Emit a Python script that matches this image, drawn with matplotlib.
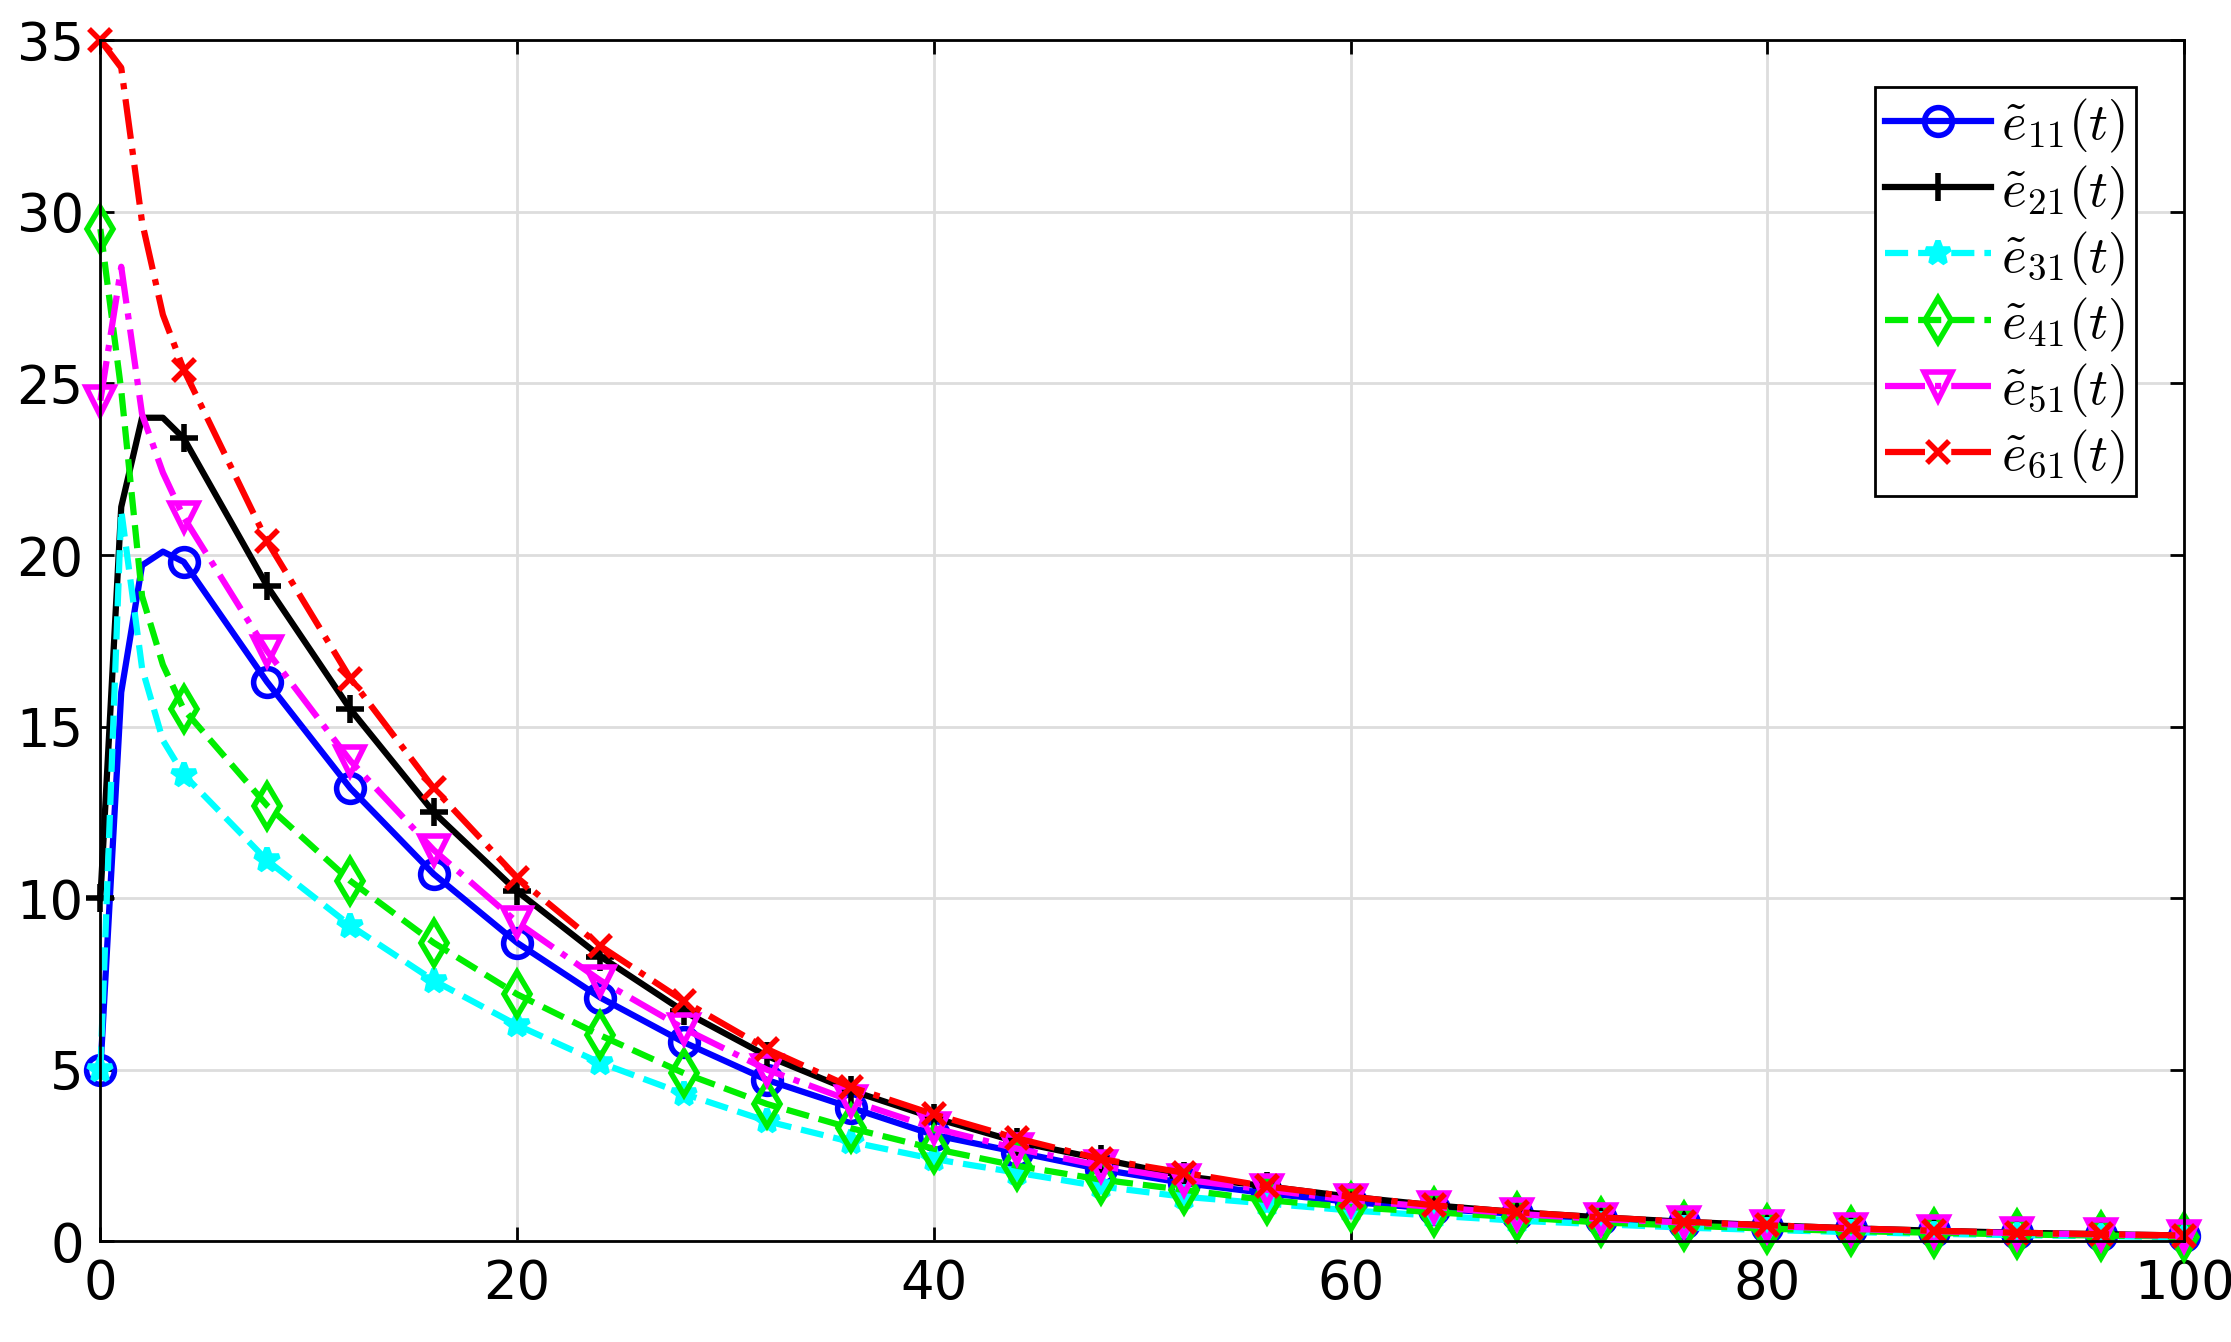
import numpy as np
import matplotlib.pyplot as plt

t = [0, 1, 2, 3, 4, 8, 12, 16, 20, 24, 28, 32, 36, 40, 44, 48, 52, 56, 60,
     64, 68, 72, 76, 80, 84, 88, 92, 96, 100]

e11 = [5, 16, 19.7, 20.1, 19.8, 16.3, 13.2, 10.7, 8.7, 7.1, 5.8, 4.7, 3.9, 3.1, 2.6, 2.1,
       1.7, 1.4, 1.15, 0.95, 0.8, 0.65, 0.53, 0.43, 0.35, 0.29, 0.24, 0.19, 0.16]
e21 = [10, 21.4, 24, 24, 23.4, 19.1, 15.5, 12.5, 10.2, 8.3, 6.7, 5.4, 4.4, 3.6, 2.9, 2.4,
       1.9, 1.6, 1.3, 1.05, 0.85, 0.7, 0.57, 0.47, 0.38, 0.31, 0.25, 0.21, 0.17]
e31 = [5, 21.3, 16.7, 14.6, 13.6, 11.1, 9.2, 7.6, 6.3, 5.2, 4.3, 3.5, 2.9, 2.4, 2.0, 1.6,
       1.3, 1.1, 0.9, 0.75, 0.6, 0.5, 0.4, 0.33, 0.27, 0.22, 0.18, 0.15, 0.12]
e41 = [29.5, 24.8, 18.8, 16.8, 15.5, 12.7, 10.5, 8.7, 7.2, 6.0, 4.9, 4.0, 3.3, 2.7, 2.2, 1.8,
       1.5, 1.2, 1.0, 0.85, 0.7, 0.55, 0.46, 0.37, 0.3, 0.25, 0.2, 0.17, 0.14]
e51 = [24.5, 28.4, 24.1, 22.4, 21.1, 17.2, 14.0, 11.4, 9.3, 7.6, 6.2, 5.0, 4.1, 3.3, 2.7, 2.2,
       1.8, 1.5, 1.2, 1.0, 0.8, 0.65, 0.55, 0.45, 0.36, 0.3, 0.24, 0.2, 0.16]
e61 = [35, 34.2, 29.7, 27.0, 25.4, 20.4, 16.4, 13.2, 10.6, 8.6, 7.0, 5.6, 4.5, 3.7, 3.0, 2.4,
       2.0, 1.6, 1.3, 1.05, 0.85, 0.7, 0.57, 0.47, 0.38, 0.31, 0.25, 0.21, 0.17]

labels = [r'$\tilde{e}_{11}(t)$', r'$\tilde{e}_{21}(t)$', r'$\tilde{e}_{31}(t)$',
          r'$\tilde{e}_{41}(t)$', r'$\tilde{e}_{51}(t)$', r'$\tilde{e}_{61}(t)$']

plt.rcParams['mathtext.fontset'] = 'cm'
fig = plt.figure(figsize=(22.31, 13.42), dpi=100)
ax = fig.add_axes([0.045, 0.075, 0.934, 0.895])

marks = [0] + list(range(4, len(t)))
styles = [
    dict(color='#0000ff', ls='-', marker='o', mfc='none', ms=20),
    dict(color='black', ls='-', marker='+', ms=20),
    dict(color='cyan', ls='--', marker='*', ms=18),
    dict(color='#00ee00', ls='--', marker='d', mfc='none', ms=22),
    dict(color='magenta', ls='-.', marker='v', mfc='none', ms=20),
    dict(color='red', ls='-.', marker='x', ms=16),
]
for y, lab, st in zip([e11, e21, e31, e41, e51, e61], labels, styles):
    ax.plot(t, y, lw=4.5, mew=4, markevery=marks, label=lab, clip_on=False, **st)

ax.set_xlim(0, 100)
ax.set_ylim(0, 35)
ax.set_xticks(range(0, 101, 20))
ax.set_yticks(range(0, 36, 5))
ax.tick_params(labelsize=38, width=2, length=10, direction='in', top=True, right=True, pad=12)
for s in ax.spines.values():
    s.set_linewidth(2)
ax.grid(color='#dddddd', lw=2)
ax.set_axisbelow(True)
leg = ax.legend(loc='upper right', fontsize=38, fancybox=False, edgecolor='black',
                framealpha=1, handlelength=2.0, handletextpad=0.2, borderpad=0.2,
                labelspacing=0.15, borderaxespad=0.2, bbox_to_anchor=(0.982, 0.97))
leg.get_frame().set_linewidth(2)
fig.savefig('out.png')
